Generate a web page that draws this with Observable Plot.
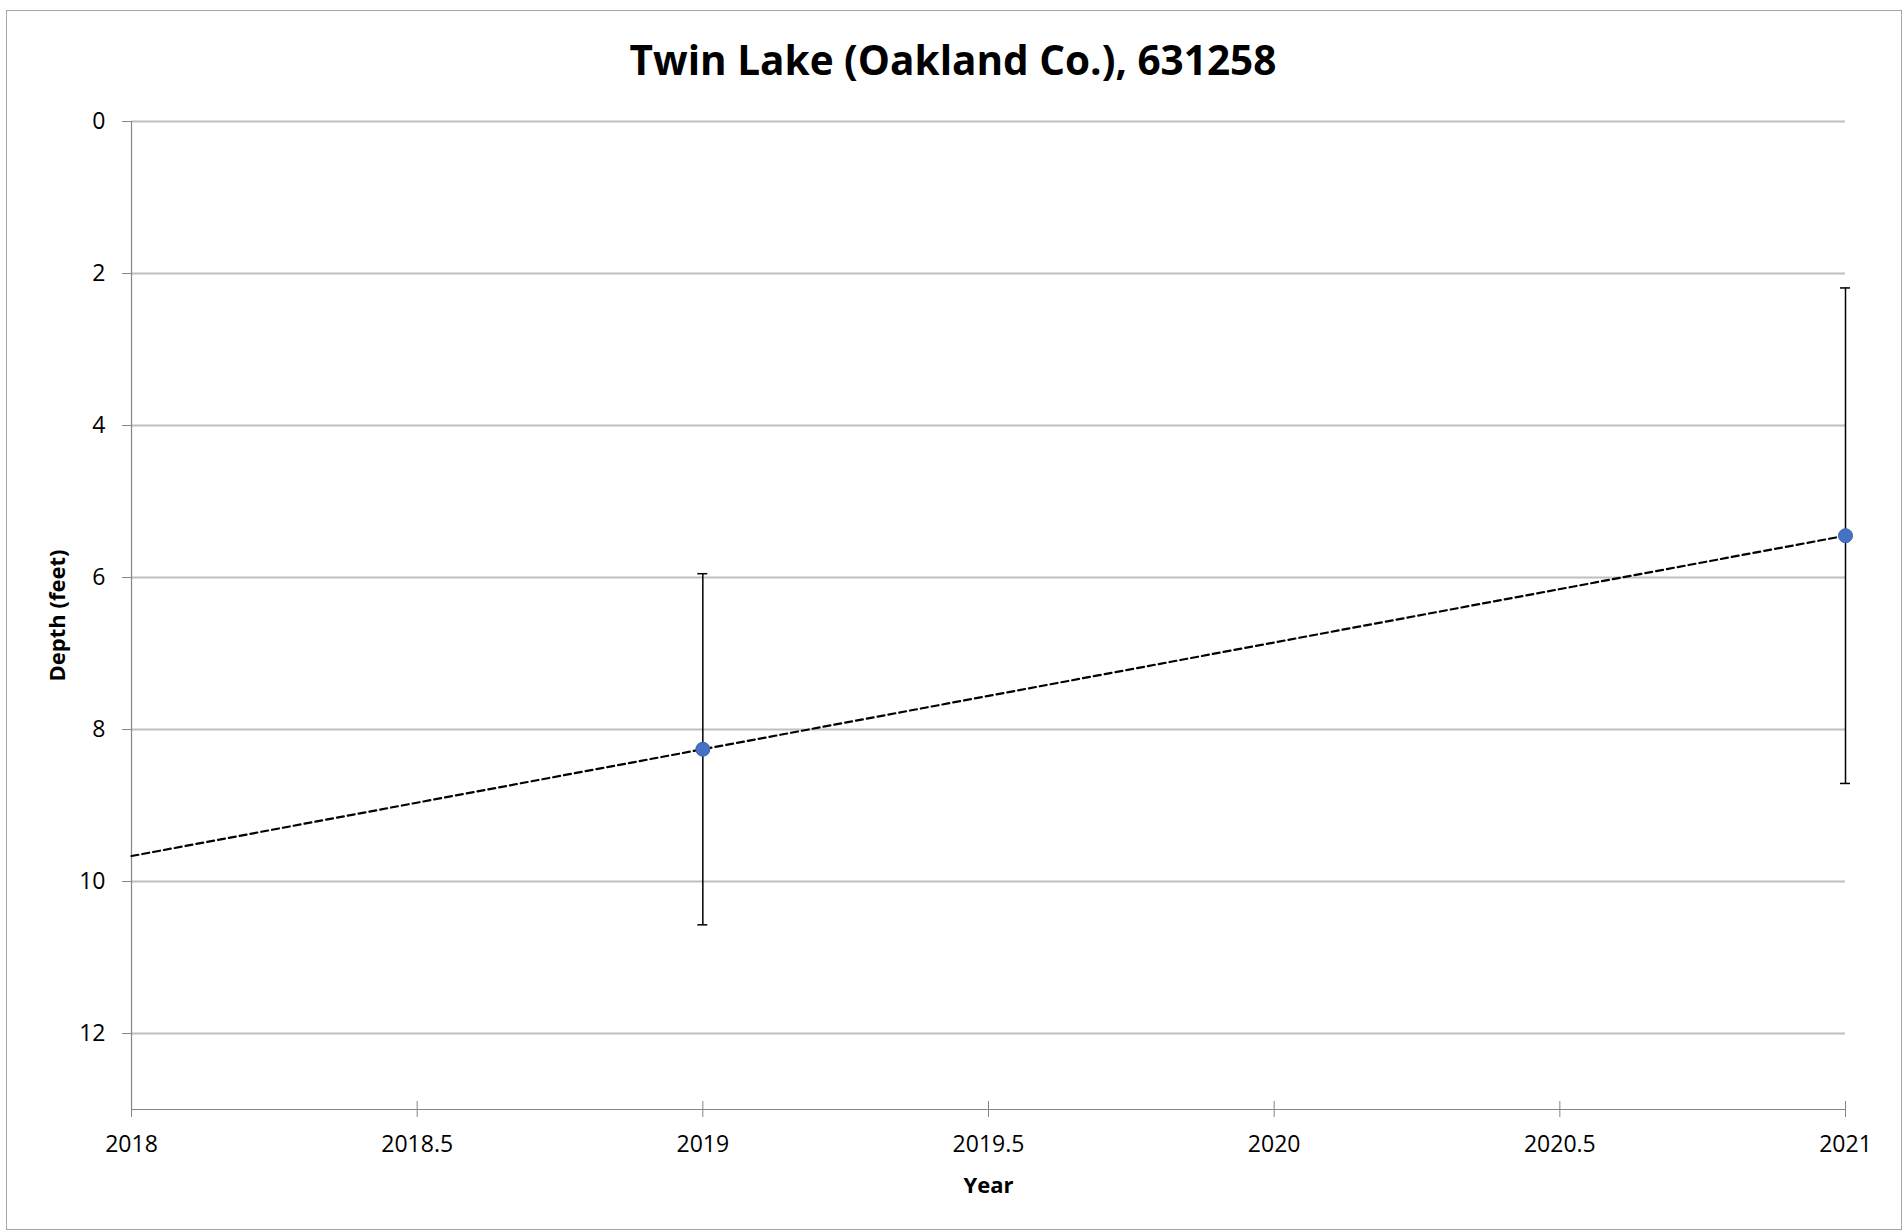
<!DOCTYPE html>
<html><head><meta charset="utf-8">
<script src="https://cdn.jsdelivr.net/npm/d3@7"></script>
<script src="https://cdn.jsdelivr.net/npm/@observablehq/plot@0.6"></script>
<style>
html,body{margin:0;padding:0;background:#fff;}
#chart{position:relative;width:1902px;height:1230px;overflow:hidden;font-family:"Open Sans",sans-serif;color:#000;}
#frame{position:absolute;left:6px;top:10px;width:1896px;height:1220px;border:1px solid #a6a6a6;box-sizing:border-box;pointer-events:none;}
#title{position:relative;height:100px;}
#title div{position:absolute;left:2px;width:100%;top:40px;line-height:40px;text-align:center;font-weight:700;font-size:40.5px;}
#plot svg{display:block;}
</style>
</head><body>
<div id="chart">
  <div id="frame"></div>
  <div id="title"><div>Twin Lake (Oakland Co.), 631258</div></div>
  <div id="plot"></div>
</div>
<script>
const years = [2019, 2021];
const meanDepth = [8.26, 5.45];
const stdDev = [2.31, 3.26];
const trendYears = [2018, 2021];
const trendDepth = [9.665, 5.45];
const xTicks = [2018, 2018.5, 2019, 2019.5, 2020, 2020.5, 2021];
const yTicks = [0, 2, 4, 6, 8, 10, 12];
const xTitle = "Year";
const yTitle = "Depth (feet)";

const points = years.map((y, i) => ({year: y, depth: meanDepth[i], lo: meanDepth[i] - stdDev[i], hi: meanDepth[i] + stdDev[i]}));
const trend = trendYears.map((y, i) => ({year: y, depth: trendDepth[i]}));

const axisColor = "#868686";
const plot = Plot.plot({
  width: 1902,
  height: 1130,
  marginTop: 21,
  marginBottom: 121,
  marginLeft: 131,
  marginRight: 57,
  style: {fontFamily: "'Open Sans', sans-serif", fontSize: "23px", color: "#000", background: "#fff"},
  x: {domain: [2018, 2021], label: null},
  y: {domain: [0, 13], reverse: true, label: null},
  marks: [
    Plot.gridY(yTicks, {stroke: "#bfbfbf", strokeOpacity: 1, strokeWidth: 2}),
    Plot.ruleX([2018], {stroke: axisColor, strokeWidth: 1.2}),
    Plot.ruleY([13], {stroke: axisColor, strokeWidth: 1.2}),
    Plot.axisY(yTicks, {tickSize: 9, tickPadding: 17, stroke: axisColor, fill: "#000", tickFormat: d => String(d), fontSize: 23, label: null}),
    Plot.axisX(xTicks, {tickSize: 8, tickPadding: 18, stroke: axisColor, fill: "#000", tickFormat: d => String(d), fontSize: 23, label: null}),
    Plot.axisX(xTicks, {tickSize: 8, dy: -8, stroke: axisColor, text: null, label: null}),
    Plot.text([xTitle], {frameAnchor: "bottom", dy: 76, fontWeight: "bold", fontSize: 22, fill: "#000", lineAnchor: "middle", textAnchor: "middle"}),
    Plot.text([yTitle], {frameAnchor: "left", dx: -74, rotate: -90, fontWeight: "bold", fontSize: 22, fill: "#000", lineAnchor: "middle", textAnchor: "middle"}),
    Plot.ruleX(points, {x: "year", y1: "lo", y2: "hi", stroke: "#000", strokeWidth: 1.5}),
    Plot.ruleY(points, {y: "lo", x1: "year", x2: "year", insetLeft: -5, insetRight: -5, stroke: "#000", strokeWidth: 1.5}),
    Plot.ruleY(points, {y: "hi", x1: "year", x2: "year", insetLeft: -5, insetRight: -5, stroke: "#000", strokeWidth: 1.5}),
    Plot.line(trend, {x: "year", y: "depth", stroke: "#000", strokeWidth: 2.2, strokeDasharray: "7,4"}),
    Plot.dot(points, {x: "year", y: "depth", r: 7, fill: "#4472c4", stroke: "#3b64ad", strokeWidth: 1})
  ]
});
document.getElementById("plot").appendChild(plot);
</script>
</body></html>
